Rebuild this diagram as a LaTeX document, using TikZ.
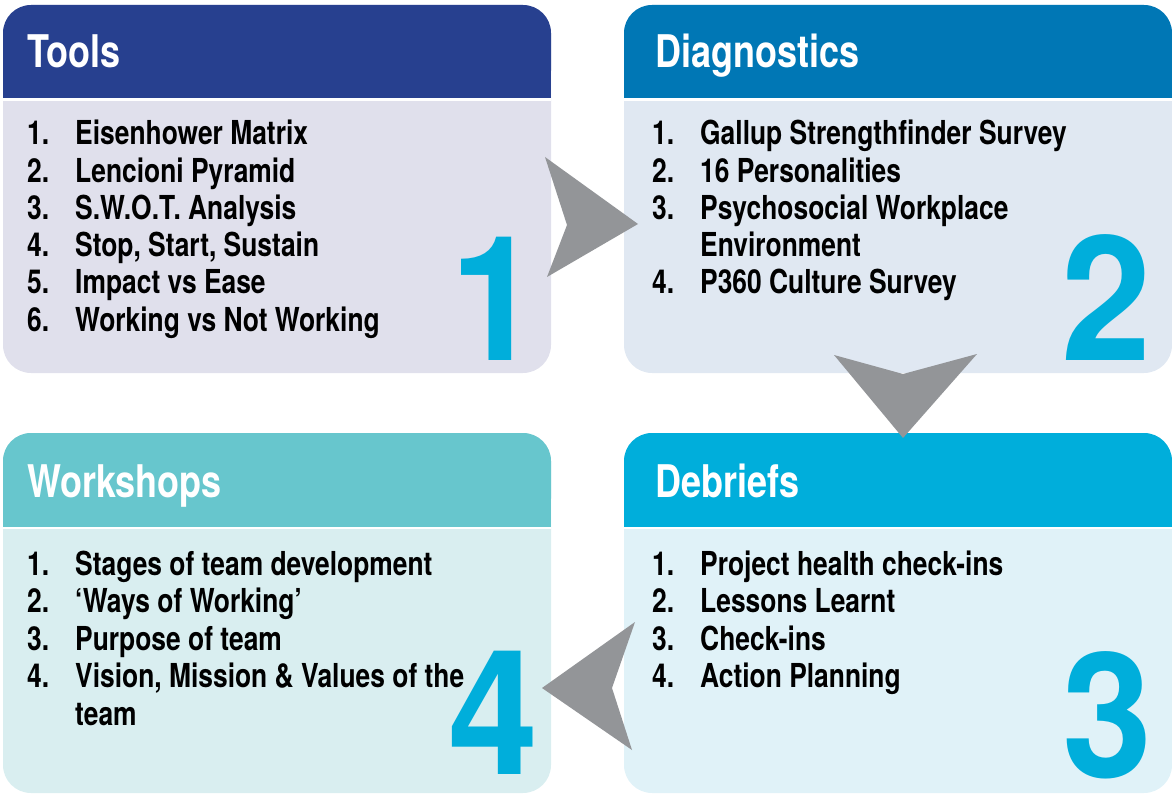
\documentclass[tikz,border=0pt]{standalone}
\usepackage{fontspec}
\setmainfont{TeX Gyre Heros}[FakeStretch=0.80]
\newfontfamily\bignum{TeX Gyre Heros}[FakeStretch=0.93]
\definecolor{headA}{HTML}{27408F}
\definecolor{bodyA}{HTML}{E0E0EC}
\definecolor{headB}{HTML}{0077B5}
\definecolor{bodyB}{HTML}{E0E8F2}
\definecolor{headC}{HTML}{00AEDB}
\definecolor{bodyC}{HTML}{E0F2F8}
\definecolor{headD}{HTML}{67C6CD}
\definecolor{bodyD}{HTML}{D9EEF0}
\definecolor{numcol}{HTML}{00AEDB}
\definecolor{arrowgray}{HTML}{939598}
\newcommand\panel[7]{%
  \fill[#7, rounded corners=28pt] (#2,#3) rectangle (#4,#5);
  \fill[#6, rounded corners=28pt] (#2,#3) rectangle (#4,#3+93.5);
  \fill[#6] (#2,#3+50) rectangle (#4,#3+93.5);
  \fill[white] (#2,#3+93.5) rectangle (#4,#3+96);
  \coordinate (#1) at (#2,#3);}
\newcommand\listline[5]{%
  \node[numst] (#1n) at (#2,#3) {#4};
  \node[itemst] (#1t) at (#2+48,#3) {#5};}
\begin{document}
\begin{tikzpicture}[x=1pt,y=-1pt,
  titlest/.style={anchor=base west, inner sep=0pt, text=white,
    font=\fontsize{45}{50}\selectfont\bfseries},
  numst/.style={anchor=base west, inner sep=0pt, text=black,
    font=\fontsize{33}{37}\selectfont\bfseries},
  itemst/.style={anchor=base west, inner sep=0pt, text=black,
    font=\fontsize{33}{37}\selectfont\bfseries},
  bigst/.style={anchor=base west, inner sep=0pt, text=numcol,
    font=\fontsize{174}{180}\bignum\bfseries},
  arrowst/.style={fill=arrowgray}]
\useasboundingbox (0,0) rectangle (1172,794);
% panels
\panel{pA}{3}{5}{551}{373}{headA}{bodyA}
\panel{pB}{624}{5}{1172}{373}{headB}{bodyB}
\panel{pC}{624}{433}{1172}{793}{headC}{bodyC}
\panel{pD}{3}{433}{551}{793}{headD}{bodyD}
% titles
\node[titlest] (tA) at (27,68) {Tools};
\node[titlest] (tB) at (655,68) {Diagnostics};
\node[titlest] (tC) at (655,497) {Debriefs};
\node[titlest] (tD) at (27,497) {Workshops};
% big numbers
\node[bigst] (nA) at (450,360) {1};
\node[bigst] (nB) at (1061,360) {2};
\node[bigst] (nC) at (1062,777) {3};
\node[bigst] (nD) at (448,774) {4};
% lists
\listline{a1}{27}{145}{1.}{Eisenhower Matrix}
\listline{a2}{27}{182.2}{2.}{Lencioni Pyramid}
\listline{a3}{27}{219.4}{3.}{S.W.O.T. Analysis}
\listline{a4}{27}{256.6}{4.}{Stop, Start, Sustain}
\listline{a5}{27}{293.8}{5.}{Impact vs Ease}
\listline{a6}{27}{331}{6.}{Working vs Not Working}
\listline{b1}{652}{145}{1.}{Gallup Strengthfinder Survey}
\listline{b2}{652}{182.2}{2.}{16 Personalities}
\listline{b3}{652}{219.4}{3.}{Psychosocial Workplace}
\node[itemst] (b3x) at (700,256.6) {Environment};
\listline{b4}{652}{293.8}{4.}{P360 Culture Survey}
\listline{c1}{652}{575}{1.}{Project health check-ins}
\listline{c2}{652}{612.5}{2.}{Lessons Learnt}
\listline{c3}{652}{650}{3.}{Check-ins}
\listline{c4}{652}{687.5}{4.}{Action Planning}
\listline{d1}{27}{575}{1.}{Stages of team development}
\listline{d2}{27}{612.5}{2.}{‘Ways of Working’}
\listline{d3}{27}{650}{3.}{Purpose of team}
\listline{d4}{27}{687.5}{4.}{Vision, Mission \& Values of the}
\node[itemst] (d4x) at (75,725) {team};
% arrows
\fill[arrowst] (545,157) -- (638,224) -- (547,277) -- (567,225) -- cycle;
\fill[arrowst] (834,355) -- (903,374) -- (977,354) -- (903,438) -- cycle;
\fill[arrowst] (635,622) -- (542,688) -- (632,750) -- (612,688) -- cycle;
\end{tikzpicture}
\end{document}
